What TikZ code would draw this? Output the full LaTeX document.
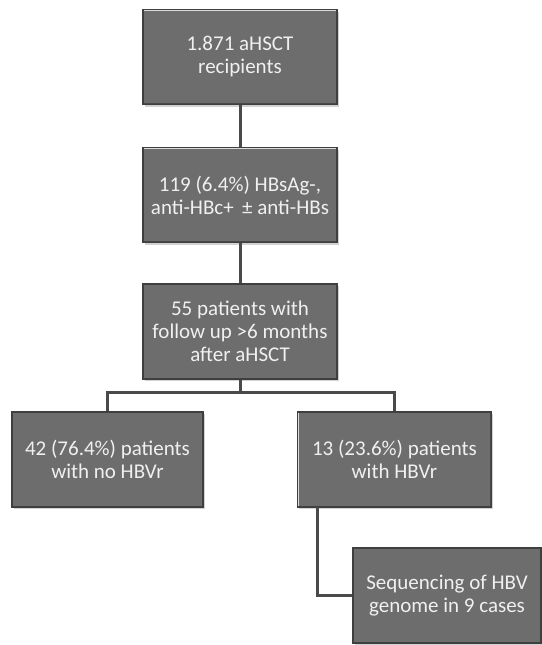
\documentclass[tikz,border=0pt]{standalone}
\usepackage{fontspec}
\setmainfont{Carlito}
\usetikzlibrary{shadows}
\definecolor{boxgray}{HTML}{6D6D6D}
\definecolor{boxedge}{HTML}{3F3F3F}
\definecolor{linkgray}{HTML}{4A4A4A}
\tikzset{
  stage/.style={draw=boxedge, line width=1.2pt, fill=boxgray,
    text=white!94!black, align=center, inner sep=2pt,
    minimum width=194pt, minimum height=95pt,
    font=\fontsize{21}{23}\selectfont,
    drop shadow={shadow xshift=1.5pt, shadow yshift=-2pt, opacity=.35},
    path picture={
      \draw[white!75!boxgray, line width=2.5pt]
        (path picture bounding box.south west) -- (path picture bounding box.north west)
        -- (path picture bounding box.north east);
      \draw[boxedge!80!boxgray, line width=2.5pt]
        (path picture bounding box.north east) -- (path picture bounding box.south east)
        -- (path picture bounding box.south west);
    }},
  link/.style={draw=linkgray, line width=3pt}
}
\begin{document}
\begin{tikzpicture}[x=1pt,y=-1pt]
  \useasboundingbox[fill=white] (0,0) rectangle (541,645);
  \node (all) [stage] at (240,57) {1.871 aHSCT\\recipients};
  \node (core) [stage] at (240,195) {119 (6.4\%) HBsAg-,\\anti-HBc+ \,± anti-HBs};
  \node (follow) [stage] at (240,331.5) {55 patients with\\follow up >6 months\\after aHSCT};
  \node (noreact) [stage, minimum width=191pt] at (107.5,459.5) {42 (76.4\%) patients\\with no HBVr};
  \node (react) [stage] at (394.5,459.5) {13 (23.6\%) patients\\with HBVr};
  \node (seq) [stage, minimum width=188pt] at (447,595.5) {Sequencing of HBV\\genome in 9 cases};
  \coordinate (split) at (240,392);
  \coordinate (tap) at (317,507);
  \draw[link] (all) -- (core);
  \draw[link] (core) -- (follow);
  \draw[link] (follow) -- (split);
  \draw[link] (noreact.north) |- (split) -| (react.north);
  \draw[link] (tap) |- (seq.west);
\end{tikzpicture}
\end{document}
